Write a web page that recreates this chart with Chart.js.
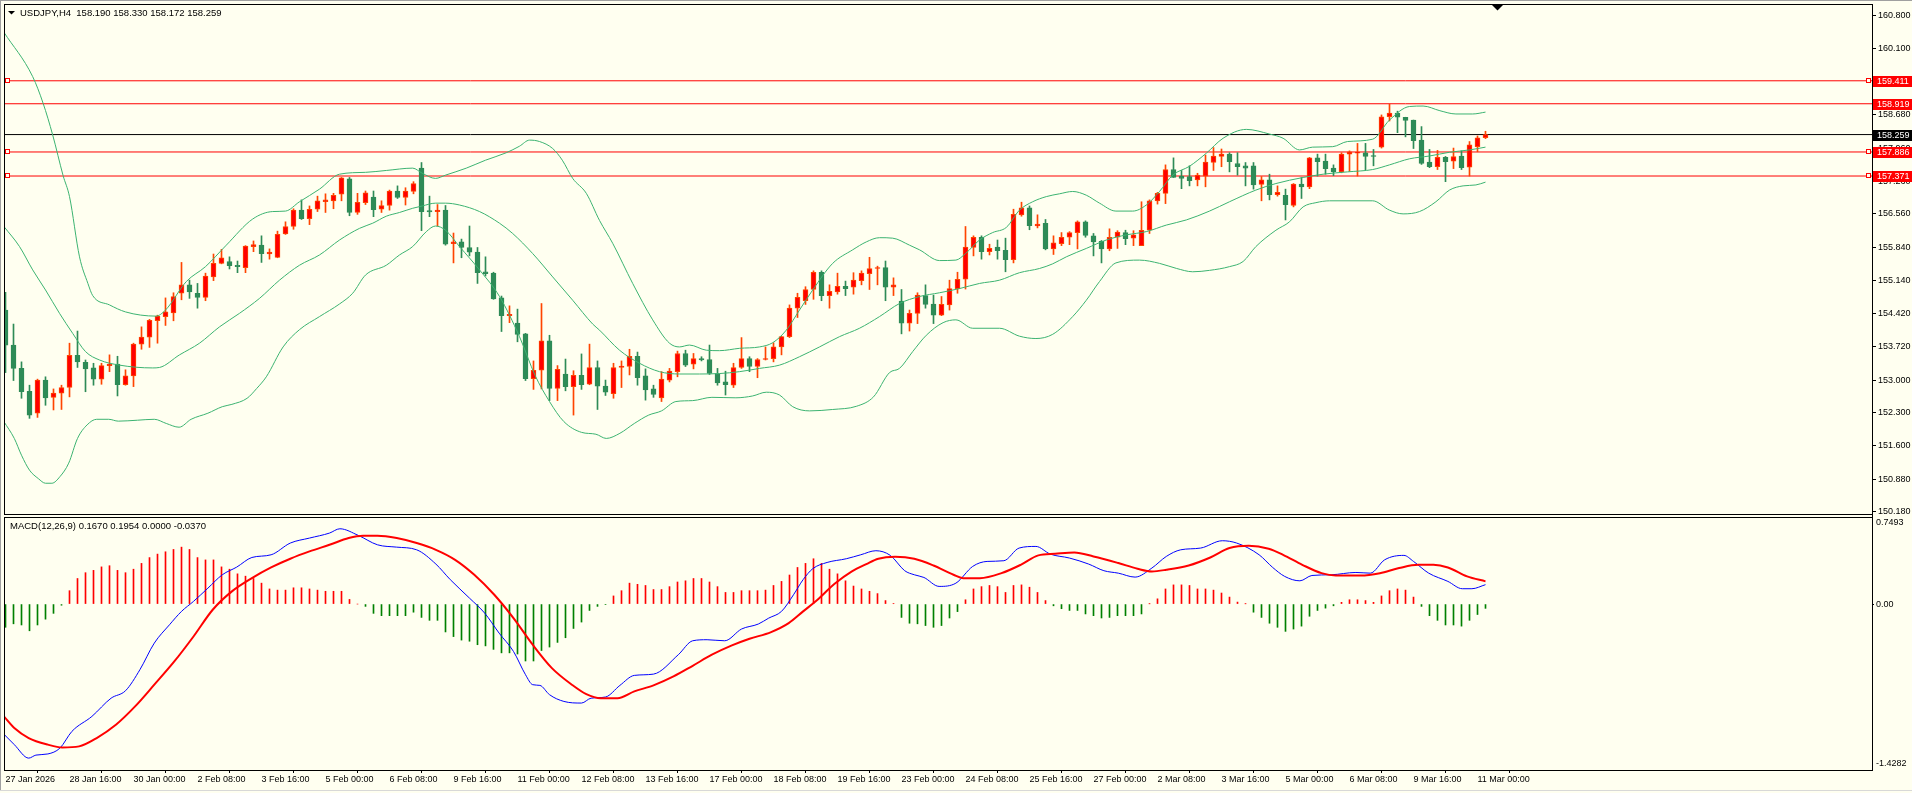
<!DOCTYPE html>
<html>
<head>
<meta charset="utf-8">
<title>USDJPY,H4</title>
<script src="https://cdn.jsdelivr.net/npm/chart.js@4.4.1/dist/chart.umd.min.js"></script>
<style>
  html, body { margin: 0; padding: 0; background: #FFFFF0; width: 1912px; height: 793px; overflow: hidden; }
  #wrap { position: relative; width: 1912px; height: 793px; }
  canvas { position: absolute; left: 0; }
  #cMain { top: 0; }
  #cMacd { top: 515px; }
  .edge { position: absolute; background: #a0a0a0; }
</style>
</head>
<body>
<div id="wrap">
  <canvas id="cMain" width="1912" height="515"></canvas>
  <canvas id="cMacd" width="1912" height="278"></canvas>
  <div class="edge" style="left:0;top:0;width:1912px;height:1px"></div>
  <div class="edge" style="left:0;top:0;width:1px;height:790px"></div>
  <div class="edge" style="left:0;top:790px;width:1912px;height:1px;background:#d8d8d8"></div>
</div>
<script>
/* global Chart */
'use strict';

// ── data: H4 candles, bar index 0 = 27 Jan 08:00 ─────────────────

var opens = [
  154.50,153.75,153.25,152.76,152.29,153.00,152.63,152.72,152.84,153.53,
  153.38,153.26,153.02,153.31,153.34,152.90,153.09,153.77,153.92,154.27,
  154.36,154.44,154.86,155.04,154.86,154.77,155.21,155.50,155.54,155.46,
  155.41,155.86,155.89,155.70,155.63,156.13,156.29,156.64,156.46,156.66,
  156.82,156.84,156.98,157.31,156.59,156.80,156.92,156.66,156.74,157.05,
  156.91,157.04,157.54,156.63,156.61,156.64,155.92,155.96,155.84,155.74,
  155.32,155.29,154.76,154.38,154.22,153.99,153.03,153.21,153.84,152.82,
  153.13,152.86,153.10,152.91,153.27,152.87,152.71,153.27,153.29,153.51,
  153.09,152.81,152.62,153.00,153.18,153.57,153.34,153.46,153.44,153.14,
  152.96,152.89,153.27,153.46,153.29,153.44,153.46,153.71,153.93,154.54,
  154.70,154.94,155.31,154.81,154.89,155.01,154.99,155.13,155.28,155.39,
  155.41,154.99,154.69,154.22,154.43,154.81,154.63,154.39,154.61,154.96,
  155.16,155.84,156.06,155.75,155.85,155.78,155.58,156.54,156.69,156.30,
  156.36,155.81,155.92,156.06,156.16,156.39,156.09,155.97,155.81,156.06,
  156.16,156.04,155.88,156.21,156.84,157.00,157.51,157.37,157.36,157.29,
  157.37,157.66,157.79,157.84,157.64,157.59,157.59,157.19,157.29,156.97,
  156.96,156.74,157.20,157.14,157.76,157.69,157.54,157.46,157.84,157.86,
  157.87,157.80,157.99,158.64,158.72,158.63,158.57,158.14,157.67,157.57,
  157.77,157.69,157.80,157.56,158.00,158.190
];
var highs = [
  154.88,154.20,153.39,152.89,153.02,153.07,152.81,152.89,153.79,154.05,
  153.43,153.36,153.36,153.54,153.51,153.22,153.79,154.14,154.30,154.39,
  154.76,154.87,155.52,155.14,155.07,155.29,155.70,155.80,155.64,155.55,
  155.88,155.98,156.09,155.81,156.19,156.39,156.67,156.86,156.73,156.94,
  156.99,157.00,157.34,157.34,157.00,157.05,157.05,156.84,157.07,157.16,
  157.12,157.25,157.66,156.94,156.76,156.74,156.15,156.02,156.30,155.84,
  155.64,155.31,154.80,154.59,154.52,154.00,153.41,154.64,153.96,153.31,
  153.45,153.20,153.56,153.77,153.41,153.00,153.36,153.41,153.66,153.60,
  153.24,152.89,153.18,153.25,153.62,153.64,153.57,153.50,153.75,153.25,
  153.19,153.36,153.91,153.50,153.46,153.71,153.80,153.94,154.61,154.86,
  155.00,155.34,155.34,155.04,155.29,155.12,155.30,155.34,155.63,155.44,
  155.55,155.19,154.94,154.50,154.87,155.04,154.82,154.79,155.14,155.31,
  156.29,156.09,156.09,155.91,156.00,156.04,156.66,156.81,156.73,156.54,
  156.44,156.09,156.16,156.18,156.41,156.41,156.14,155.99,156.24,156.20,
  156.21,156.20,156.82,156.86,157.02,157.61,157.76,157.49,157.59,157.43,
  157.82,157.98,157.95,157.87,157.87,157.66,157.66,157.36,157.41,157.16,
  157.09,157.21,157.34,157.77,157.84,157.84,157.61,157.87,157.91,158.07,
  158.07,157.94,158.68,158.91,158.76,158.63,158.57,158.43,157.94,157.92,
  157.79,157.97,157.91,158.11,158.23,158.330
];
var lows = [
  153.16,152.99,152.61,152.18,152.20,152.46,152.36,152.37,152.64,153.27,
  152.75,152.89,152.91,153.18,152.66,152.89,152.86,153.66,153.70,153.79,
  154.17,154.27,154.72,154.75,154.54,154.70,155.13,155.49,155.38,155.30,
  155.30,155.75,155.52,155.59,155.62,156.12,156.23,156.44,156.33,156.61,
  156.59,156.67,156.84,156.52,156.55,156.76,156.50,156.59,156.64,156.89,
  156.75,156.99,156.20,156.50,156.30,155.89,155.51,155.62,155.66,155.07,
  155.23,154.73,154.04,154.23,153.82,152.99,152.80,152.81,152.56,152.56,
  152.77,152.25,152.80,152.90,152.37,152.67,152.61,152.84,153.11,152.89,
  152.57,152.63,152.54,152.96,153.07,153.29,153.24,153.41,153.12,152.89,
  152.68,152.84,153.25,153.18,153.05,153.43,153.39,153.54,153.91,154.34,
  154.62,154.73,154.70,154.54,154.84,154.81,154.84,155.04,154.94,155.04,
  154.70,154.81,153.99,154.05,154.21,154.54,154.21,154.38,154.50,154.86,
  154.95,155.66,155.59,155.68,155.59,155.32,155.51,156.51,156.22,156.26,
  155.79,155.69,155.88,155.90,155.81,156.06,155.66,155.51,155.77,155.82,
  155.90,155.88,155.88,156.14,156.77,156.78,157.34,157.10,157.16,157.16,
  157.14,157.49,157.57,157.46,157.39,157.16,157.09,156.84,156.86,156.94,
  156.43,156.71,156.89,157.10,157.37,157.41,157.38,157.44,157.47,157.37,
  157.50,157.59,157.97,158.55,158.30,158.21,157.96,157.62,157.55,157.51,
  157.25,157.53,157.51,157.37,157.89,158.172
];
var closes = [
  153.75,153.25,152.75,152.25,153.00,152.62,152.72,152.84,153.53,153.39,
  153.24,153.02,153.31,153.34,152.90,153.09,153.77,153.92,154.28,154.37,
  154.46,154.79,155.04,154.89,154.77,155.23,155.50,155.62,155.45,155.43,
  155.87,155.90,155.71,155.74,156.12,156.29,156.64,156.46,156.66,156.84,
  156.86,156.96,157.33,156.59,156.81,157.01,156.65,156.74,157.05,156.91,
  157.05,157.21,156.61,156.60,156.64,155.91,155.96,155.84,155.74,155.30,
  155.28,154.74,154.38,154.41,153.98,153.03,153.21,153.84,152.82,153.23,
  152.86,153.10,152.90,153.27,152.87,152.74,153.27,153.30,153.51,153.05,
  152.79,152.69,153.02,153.19,153.57,153.32,153.46,153.43,153.14,152.94,
  152.90,153.27,153.46,153.29,153.44,153.46,153.71,153.93,154.54,154.77,
  154.94,155.31,154.81,154.90,155.01,154.96,155.14,155.29,155.39,155.41,
  154.99,155.04,154.22,154.43,154.82,154.62,154.39,154.62,154.96,155.16,
  155.85,156.06,155.75,155.82,155.77,155.58,156.55,156.69,156.31,156.34,
  155.81,155.94,156.06,156.16,156.39,156.10,155.96,155.81,156.06,156.17,
  156.03,156.11,156.21,156.84,157.00,157.51,157.34,157.32,157.27,157.39,
  157.67,157.80,157.84,157.68,157.57,157.54,157.18,157.29,156.97,157.02,
  156.76,157.20,157.14,157.76,157.68,157.53,157.46,157.84,157.89,157.87,
  157.79,157.79,158.64,158.72,158.63,158.56,158.13,157.64,157.57,157.77,
  157.68,157.79,157.55,158.04,158.19,158.259
];

// Bollinger bands: [bar, price]
var bbUpper = [
  [-0.2,160.45],[3.4,159.50],[4.7,158.93],[5.9,158.25],[7.2,157.38],[8,156.93],[9.25,155.64],[10.3,155.07],
  [10.9,154.81],[13,154.61],[15,154.46],[18.8,154.37],[20,154.50],[22.6,155.11],[25,155.43],[27.6,155.89],
  [30.9,156.45],[33.4,156.61],[35,156.62],[36.75,156.82],[39.25,157.09],[41.75,157.41],[45,157.45],[47.6,157.49],
  [50.9,157.54],[52.1,157.43],[53.75,157.32],[55,157.39],[57.6,157.54],[60,157.71],[62.6,157.87],[64.25,158.01],
  [65.5,158.14],[66.75,158.11],[68.4,157.96],[69.6,157.71],[70.9,157.32],[72.6,157.0],[74.25,156.42],[75.9,155.93],
  [78.4,155.07],[80.9,154.29],[83,153.79],[84.25,153.71],[85.5,153.75],[87.6,153.64],[89.25,153.63],[91.75,153.68],
  [94.25,153.71],[95.9,153.80],[97.6,154.07],[99.25,154.50],[100.9,154.93],[103.4,155.50],[105.9,155.79],[107.6,155.96],
  [109.25,156.05],[110.9,156.04],[113,155.89],[114.25,155.79],[116.75,155.56],[118.8,155.57],[120,155.71],[121.75,156.0],
  [123.4,156.16],[125.1,156.27],[126.75,156.64],[128.4,156.82],[130.1,156.93],[131.75,156.99],[133.4,157.04],[135.1,156.96],
  [136.75,156.79],[138.8,156.62],[140.9,156.62],[142.6,156.75],[144.25,157.04],[145.9,157.39],[148,157.58],[150.1,157.86],
  [152.2,158.18],[155.1,158.37],[158,158.27],[159.7,158.18],[161.75,157.93],[163.4,157.99],[165.9,158.0],[167.75,158.11],
  [170.9,158.16],[173,158.57],[175.5,158.86],[177.2,158.87],[179.3,158.77],[181.3,158.70],[183.4,158.70],[185,158.74]
];
var bbMiddle = [
  [-0.2,156.29],[1.75,155.86],[3.4,155.36],[5,154.93],[6.75,154.43],[8.4,154.0],[10,153.61],[11.75,153.43],
  [14.25,153.32],[18.4,153.26],[19.25,153.27],[21.75,153.54],[24.25,153.79],[26.75,154.14],[29.25,154.43],[31.75,154.75],
  [34.25,155.14],[36.75,155.46],[39.25,155.68],[41.75,156.0],[44.25,156.25],[45.9,156.36],[47.6,156.51],[49.25,156.59],
  [50.9,156.68],[52.1,156.73],[53.75,156.79],[55,156.79],[56.75,156.75],[59.25,156.61],[61.75,156.36],[63.4,156.14],
  [65.9,155.71],[68.4,155.21],[70.9,154.71],[73.4,154.20],[74.25,154.07],[76.75,153.64],[79.25,153.36],[81.75,153.18],
  [84.25,153.13],[86.75,153.13],[89.25,153.14],[91.75,153.18],[94.25,153.25],[96.75,153.32],[99.25,153.50],[101.75,153.71],
  [104.25,153.93],[106.75,154.11],[109.25,154.36],[111.75,154.64],[114.25,154.79],[116.75,154.87],[119.25,154.96],[121.75,155.07],
  [124.25,155.14],[126.75,155.30],[129.25,155.39],[130.9,155.49],[132.6,155.64],[135.1,155.82],[137.6,156.0],[140.1,156.11],
  [142.6,156.18],[145.1,156.32],[147.6,156.43],[150.5,156.62],[153,156.82],[156.3,157.07],[158.8,157.21],[162.2,157.34],
  [164.7,157.41],[167.75,157.46],[170.9,157.51],[173,157.61],[175.5,157.74],[178,157.80],[180.5,157.88],[183,157.93],[185,157.99]
];
var bbLower = [
  [-0.2,152.11],[1.1,151.75],[2,151.39],[3,151.07],[4.1,150.89],[5,150.79],[5.8,150.79],[6.8,150.93],
  [7.9,151.22],[9,151.75],[10.2,152.04],[11.4,152.16],[12.9,152.16],[14.1,152.12],[16.5,152.14],[18.6,152.16],
  [20.1,152.07],[21.7,151.99],[23.2,152.16],[25.3,152.29],[27.1,152.43],[28.3,152.48],[30.2,152.61],[31.4,152.82],
  [32.6,153.07],[34.7,153.71],[36.75,154.08],[39.25,154.36],[41.75,154.63],[43.4,154.86],[45,155.25],[47.6,155.46],
  [49.25,155.68],[50.9,155.86],[52.6,156.18],[53.75,156.30],[55,156.21],[56.75,155.86],[59.25,155.36],[61.75,154.79],
  [64.25,153.93],[66.2,153.1],[68,152.54],[69.8,152.11],[72,151.88],[73.8,151.84],[75.1,151.75],[76.8,151.86],
  [78.6,152.07],[80.4,152.25],[82,152.34],[83.8,152.54],[85.9,152.56],[88.3,152.63],[91.3,152.62],[93.4,152.66],
  [95.1,152.74],[96.75,152.68],[98.4,152.43],[100.5,152.34],[103.4,152.37],[106.4,152.44],[108.5,152.64],[110.5,153.16],
  [111.75,153.25],[113.4,153.61],[115.1,153.96],[117.2,154.23],[118.8,154.29],[120.9,154.11],[124.25,154.11],[126.75,153.94],
  [128.8,153.89],[130.9,153.98],[133.4,154.36],[135.1,154.71],[136.75,155.11],[138.8,155.51],[141.75,155.57],[144.25,155.50],
  [146.4,155.39],[148.4,155.32],[150.5,155.35],[153,155.43],[154.7,155.54],[156.3,155.86],[158.8,156.21],[160.5,156.39],
  [162.2,156.71],[163.8,156.80],[165.5,156.84],[170.9,156.84],[173,156.64],[174.7,156.56],[176.75,156.61],[178.8,156.82],
  [180.5,157.07],[182.2,157.16],[183.8,157.18],[185,157.24]
];

// horizontal lines and their axis tags
var levelValues = [159.411, 158.919, 158.259, 157.886, 157.371];
var levelColors = ['#FF0000', '#FF0000', '#000000', '#FF0000', '#FF0000'];
var levelMarked = [true, false, false, true, true];

var priceTicks = [160.8, 160.1, 159.39, 158.68, 157.96, 157.26, 156.56, 155.84, 155.14,
                  154.42, 153.72, 153.0, 152.3, 151.6, 150.88, 150.18];

var timeLabels = ['27 Jan 2026', '28 Jan 16:00', '30 Jan 00:00', '2 Feb 08:00', '3 Feb 16:00',
  '5 Feb 00:00', '6 Feb 08:00', '9 Feb 16:00', '11 Feb 00:00', '12 Feb 08:00', '13 Feb 16:00',
  '17 Feb 00:00', '18 Feb 08:00', '19 Feb 16:00', '23 Feb 00:00', '24 Feb 08:00', '25 Feb 16:00',
  '27 Feb 00:00', '2 Mar 08:00', '3 Mar 16:00', '5 Mar 00:00', '6 Mar 08:00', '9 Mar 16:00', '11 Mar 00:00'];
var timeLabelBars = [0, 8, 16, 24, 32, 40, 48, 56, 64, 72, 80, 88, 96, 104, 112, 120, 128, 136,
  144, 152, 160, 168, 176, 184];

// ── data: MACD(12,26,9) ─────────────────────────────────────────

var macdHist = [
  -0.20,-0.17,-0.18,-0.23,-0.18,-0.13,-0.08,-0.01,
  0.115,0.22,0.27,0.29,0.32,0.33,0.29,0.27,0.30,0.35,
  0.40,0.43,0.45,0.47,0.49,0.47,0.40,0.38,0.38,0.32,
  0.30,0.26,0.24,0.22,0.18,0.13,0.12,0.12,0.14,0.14,
  0.13,0.12,0.11,0.11,0.11,0.04,0.0,-0.02,-0.08,-0.10,
  -0.10,-0.10,-0.10,-0.07,-0.115,-0.14,-0.14,-0.24,-0.28,-0.31,
  -0.32,-0.35,-0.36,-0.39,-0.42,-0.42,-0.43,-0.49,-0.49,-0.40,
  -0.37,-0.33,-0.29,-0.21,-0.155,-0.055,-0.02,-0.005,0.07,0.115,
  0.18,0.17,0.16,0.125,0.125,0.15,0.19,0.20,0.22,0.22,
  0.19,0.15,0.10,0.10,0.115,0.115,0.115,0.12,0.16,0.195,
  0.25,0.315,0.35,0.39,0.35,0.30,0.26,0.20,0.155,0.13,
  0.11,0.09,0.03,0.003,-0.115,-0.165,-0.17,-0.185,-0.20,-0.185,
  -0.12,-0.065,0.037,0.13,0.15,0.16,0.15,0.10,0.16,0.165,
  0.145,0.10,0.03,-0.015,-0.04,-0.055,-0.055,-0.085,-0.10,-0.12,
  -0.115,-0.10,-0.10,-0.10,-0.085,0.002,0.045,0.13,0.165,0.165,
  0.16,0.13,0.13,0.12,0.095,0.06,0.017,0.002,-0.07,-0.115,
  -0.165,-0.20,-0.235,-0.215,-0.19,-0.105,-0.055,-0.035,-0.015,0.015,
  0.037,0.037,0.03,0.015,0.07,0.115,0.13,0.12,0.06,-0.02,
  -0.10,-0.14,-0.18,-0.18,-0.19,-0.14,-0.09,-0.037
];
var macdMain = [
  [-0.2,-1.12],[1.1,-1.21],[2.9,-1.326],[3.8,-1.30],[5.3,-1.29],[6.8,-1.24],[8.3,-1.096],[10.8,-0.967],
  [13.2,-0.81],[15,-0.746],[16.8,-0.565],[18.6,-0.336],[20.5,-0.178],[22,-0.063],[23.5,0.023],[25.3,0.137],
  [27.1,0.252],[28.9,0.318],[30.8,0.401],[33.2,0.424],[35.6,0.525],[38,0.568],[40.5,0.611],[41.8,0.648],
  [44.1,0.591],[46.5,0.51],[48.9,0.49],[51.4,0.467],[53.8,0.344],[55.6,0.21],[58,0.051],[59.9,-0.078],
  [61.7,-0.25],[63.5,-0.408],[65,-0.608],[65.9,-0.694],[66.8,-0.70],[68,-0.78],[69.8,-0.838],[72,-0.852],
  [73.2,-0.81],[75,-0.80],[76.8,-0.70],[78.6,-0.614],[81,-0.603],[84.1,-0.436],[85.9,-0.316],[87.7,-0.307],
  [89.9,-0.316],[92,-0.215],[94.1,-0.172],[95.4,-0.121],[97,-0.063],[98.5,0.08],[99.7,0.21],[100.9,0.304],
  [102.7,0.358],[105.1,0.39],[106.9,0.424],[108.8,0.459],[110.6,0.419],[112.4,0.287],[113.6,0.252],[114.8,0.229],
  [116.7,0.152],[118.8,0.18],[120.9,0.324],[122.7,0.367],[124.8,0.373],[126.7,0.482],[128.8,0.496],[130.6,0.43],
  [133,0.396],[135.4,0.344],[137.3,0.287],[139.1,0.266],[141.2,0.232],[143.3,0.31],[145.1,0.41],[146.9,0.467],
  [149.4,0.482],[152.1,0.545],[153.9,0.525],[156.7,0.424],[158.4,0.315],[159.9,0.238],[161.8,0.2],[163.3,0.246],
  [165.7,0.252],[168.8,0.272],[170.6,0.266],[172.4,0.381],[174.8,0.419],[176,0.367],[177.9,0.266],[180.3,0.195],
  [182.1,0.132],[183.3,0.132],[185,0.167]
];
var macdSignal = [
  [-0.2,-0.967],[1.1,-1.067],[2.9,-1.153],[5.3,-1.21],[7.1,-1.234],[9.2,-1.225],[11.4,-1.153],[13.8,-1.039],
  [16.2,-0.881],[18.6,-0.694],[21.1,-0.494],[23.5,-0.279],[25.9,-0.049],[28.3,0.109],[30.8,0.223],[33.2,0.315],
  [35.6,0.39],[38,0.453],[40.5,0.51],[42.9,0.568],[44.7,0.588],[46.5,0.588],[48.9,0.568],[51.4,0.525],
  [53.8,0.467],[56.2,0.381],[58.6,0.252],[61.1,0.08],[63.5,-0.121],[65.9,-0.35],[68.3,-0.551],[70.8,-0.694],
  [72.6,-0.775],[74.4,-0.81],[76.5,-0.81],[78.6,-0.752],[81,-0.70],[83.5,-0.623],[85.9,-0.531],[88.3,-0.436],
  [90.8,-0.356],[93,-0.299],[95.7,-0.241],[97.9,-0.164],[99.7,-0.063],[101.5,0.037],[103.6,0.172],[105.8,0.281],
  [107.6,0.344],[109.1,0.39],[111.2,0.407],[113.6,0.39],[116,0.332],[118.5,0.252],[119.7,0.223],[121.8,0.223],
  [124.5,0.266],[126.9,0.338],[129.1,0.419],[131.2,0.433],[133.6,0.444],[136,0.41],[139.1,0.353],[141.5,0.304],
  [143.3,0.281],[145.1,0.295],[147.9,0.332],[150.6,0.401],[153,0.482],[155.4,0.502],[157.9,0.476],[159.7,0.424],
  [162.1,0.338],[164.5,0.266],[166.3,0.246],[169.4,0.246],[171.8,0.266],[174.2,0.31],[176.6,0.338],[178.5,0.338],
  [180.3,0.315],[182.7,0.238],[185,0.1954]
];

// ── view settings ───────────────────────────────────────────────

var FONT = "Tahoma, 'Liberation Sans', Arial, sans-serif";
var X_MIN = -0.1875, X_MAX = 233.3125;          // 8 px per bar
var PRICE_MIN = 150.131, PRICE_MAX = 161.056;
var MACD_MIN = -1.4282, MACD_MAX = 0.7493;
var BULL_FILL = '#FF0000', BULL_EDGE = '#FF4500', BEAR = '#2E8B57', BAND = '#3CB371';

Chart.defaults.font.family = FONT;
Chart.defaults.font.size = 9;
Chart.defaults.color = '#000';

function toPoints(pairs) {
  return pairs.map(function (p) { return { x: p[0], y: p[1] }; });
}

// keep axis label overhang from shrinking the plot area
function noOverhang(s) {
  s.paddingTop = 0; s.paddingBottom = 0; s.paddingLeft = 0; s.paddingRight = 0;
}

// ── overlays: frame, level tags, headers ─────────────────────────

var mainOverlay = {
  id: 'mainOverlay',
  afterDraw: function (chart) {
    var ctx = chart.ctx, a = chart.chartArea, ys = chart.scales.y;
    ctx.save();
    ctx.strokeStyle = '#000';
    ctx.lineWidth = 1;
    ctx.strokeRect(a.left + 0.5, a.top + 0.5, a.right - a.left, a.bottom - a.top);
    ctx.beginPath();
    ctx.moveTo(a.right + 0.5, a.bottom); ctx.lineTo(a.right + 0.5, chart.height);
    ctx.stroke();

    ctx.font = '9px ' + FONT;
    ctx.textBaseline = 'middle';
    for (var i = 0; i < levelValues.length; i++) {
      var y = Math.round(ys.getPixelForValue(levelValues[i]));
      if (levelMarked[i]) {
        ctx.fillStyle = '#FFFFF0';
        ctx.strokeStyle = levelColors[i];
        ctx.fillRect(5.5, y - 2.5, 4, 4);
        ctx.strokeRect(5.5, y - 2.5, 4, 4);
        ctx.fillRect(a.right - 5.5, y - 2.5, 4, 4);
        ctx.strokeRect(a.right - 5.5, y - 2.5, 4, 4);
      }
      ctx.fillStyle = levelColors[i];
      ctx.fillRect(a.right + 1, y - 5, chart.width - a.right - 1, 11);
      ctx.fillStyle = '#FFFFFF';
      ctx.textAlign = 'left';
      ctx.fillText(levelValues[i].toFixed(3), a.right + 5, y + 0.5);
    }

    // header
    ctx.fillStyle = '#000';
    ctx.beginPath();
    ctx.moveTo(8, 11); ctx.lineTo(15, 11); ctx.lineTo(11.5, 14.5); ctx.closePath();
    ctx.fill();
    ctx.font = '9.5px ' + FONT;
    ctx.fillText('USDJPY,H4  158.190 158.330 158.172 158.259', 20, 13);

    // chart shift marker
    ctx.beginPath();
    ctx.moveTo(1492, 5); ctx.lineTo(1503, 5); ctx.lineTo(1497.5, 10.5); ctx.closePath();
    ctx.fill();
    ctx.restore();
  }
};

var macdOverlay = {
  id: 'macdOverlay',
  afterDraw: function (chart) {
    var ctx = chart.ctx, a = chart.chartArea, ys = chart.scales.y;
    ctx.save();
    ctx.strokeStyle = '#000';
    ctx.lineWidth = 1;
    ctx.strokeRect(a.left + 0.5, a.top + 0.5, a.right - a.left, a.bottom - a.top);
    ctx.beginPath();
    ctx.moveTo(a.right + 0.5, 0); ctx.lineTo(a.right + 0.5, a.top);
    ctx.stroke();
    ctx.fillStyle = '#000';
    ctx.textBaseline = 'middle';
    ctx.textAlign = 'left';
    ctx.font = '9.5px ' + FONT;
    ctx.fillText('MACD(12,26,9) 0.1670 0.1954 0.0000 -0.0370', 10, 11);
    ctx.font = '9px ' + FONT;
    ctx.fillText(MACD_MAX.toFixed(4), a.right + 4, ys.getPixelForValue(MACD_MAX) + 6);
    ctx.fillText(MACD_MIN.toFixed(4), a.right + 4, ys.getPixelForValue(MACD_MIN) - 6);
    ctx.restore();
  }
};

// ── price pane ──────────────────────────────────────────────────

var wickData = [], bodyData = [], wickColors = [], bodyFill = [], bodyEdge = [];
for (var i = 0; i < opens.length; i++) {
  var up = closes[i] >= opens[i];
  wickData.push({ x: i, y: [lows[i], highs[i]] });
  bodyData.push({ x: i, y: [opens[i], closes[i]] });
  wickColors.push(up ? BULL_EDGE : BEAR);
  bodyFill.push(up ? BULL_FILL : BEAR);
  bodyEdge.push(up ? BULL_EDGE : BEAR);
}

var levelSets = levelValues.map(function (v, k) {
  return {
    type: 'line', data: [{ x: X_MIN - 1, y: v }, { x: X_MAX + 1, y: v }],
    borderColor: levelColors[k], borderWidth: 1, pointRadius: 0, order: 4
  };
});

function bandSet(pairs) {
  return {
    type: 'line', data: toPoints(pairs), borderColor: BAND, borderWidth: 1,
    pointRadius: 0, cubicInterpolationMode: 'monotone', order: 0
  };
}

new Chart(document.getElementById('cMain'), {
  type: 'bar',
  data: {
    datasets: [
      bandSet(bbUpper), bandSet(bbMiddle), bandSet(bbLower),
      { data: bodyData, backgroundColor: bodyFill, borderColor: bodyEdge, borderWidth: 1,
        borderSkipped: false, barThickness: 5, minBarLength: 1, grouped: false, order: 1 },
      { data: wickData, backgroundColor: wickColors, borderWidth: 0,
        barThickness: 1, grouped: false, order: 2 }
    ].concat(levelSets)
  },
  options: {
    responsive: false, animation: false, devicePixelRatio: 1, events: [],
    layout: { padding: { left: 4, top: 4, right: 0, bottom: 1 } },
    plugins: { legend: { display: false }, tooltip: { enabled: false } },
    scales: {
      x: { type: 'linear', min: X_MIN, max: X_MAX, offset: false, display: false },
      y: {
        position: 'right', min: PRICE_MIN, max: PRICE_MAX,
        afterFit: function (s) { s.width = 40; noOverhang(s); },
        afterBuildTicks: function (s) { s.ticks = priceTicks.map(function (v) { return { value: v }; }); },
        ticks: { autoSkip: false, padding: 2, callback: function (v) { return Number(v).toFixed(3); } },
        grid: { drawOnChartArea: false, drawTicks: true, tickLength: 4, color: '#000' },
        border: { display: true, color: '#000' }
      }
    }
  },
  plugins: [mainOverlay]
});

// ── MACD pane ───────────────────────────────────────────────────

new Chart(document.getElementById('cMacd'), {
  type: 'bar',
  data: {
    datasets: [
      { type: 'line', data: toPoints(macdSignal), borderColor: '#FF0000', borderWidth: 2,
        pointRadius: 0, cubicInterpolationMode: 'monotone', order: 0 },
      { type: 'line', data: toPoints(macdMain), borderColor: '#0000FF', borderWidth: 1,
        pointRadius: 0, cubicInterpolationMode: 'monotone', order: 1 },
      { data: macdHist.map(function (v, k) { return { x: k, y: v }; }),
        backgroundColor: macdHist.map(function (v) { return v >= 0 ? '#FF0000' : '#008000'; }),
        borderWidth: 0, barThickness: 1, grouped: false, order: 2 }
    ]
  },
  options: {
    responsive: false, animation: false, devicePixelRatio: 1, events: [],
    layout: { padding: { left: 4, top: 2, right: 0, bottom: 0 } },
    plugins: { legend: { display: false }, tooltip: { enabled: false } },
    scales: {
      x: {
        type: 'linear', min: X_MIN, max: X_MAX, offset: false,
        afterFit: function (s) { s.height = 23; noOverhang(s); },
        afterBuildTicks: function (s) { s.ticks = timeLabelBars.map(function (v) { return { value: v }; }); },
        ticks: {
          autoSkip: false, maxRotation: 0, minRotation: 0, align: 'start', padding: 1,
          callback: function (v) { var k = timeLabelBars.indexOf(v); return k >= 0 ? timeLabels[k] : ''; }
        },
        grid: { drawOnChartArea: false, drawTicks: true, tickLength: 3, color: '#000' },
        border: { display: true, color: '#000' }
      },
      y: {
        position: 'right', min: MACD_MIN, max: MACD_MAX,
        afterFit: function (s) { s.width = 40; noOverhang(s); },
        afterBuildTicks: function (s) { s.ticks = [{ value: 0 }]; },
        ticks: { autoSkip: false, padding: 2, callback: function () { return '0.00'; } },
        grid: { drawOnChartArea: false, drawTicks: true, tickLength: 2, color: '#000' },
        border: { display: true, color: '#000' }
      }
    }
  },
  plugins: [macdOverlay]
});
</script>
</body>
</html>
